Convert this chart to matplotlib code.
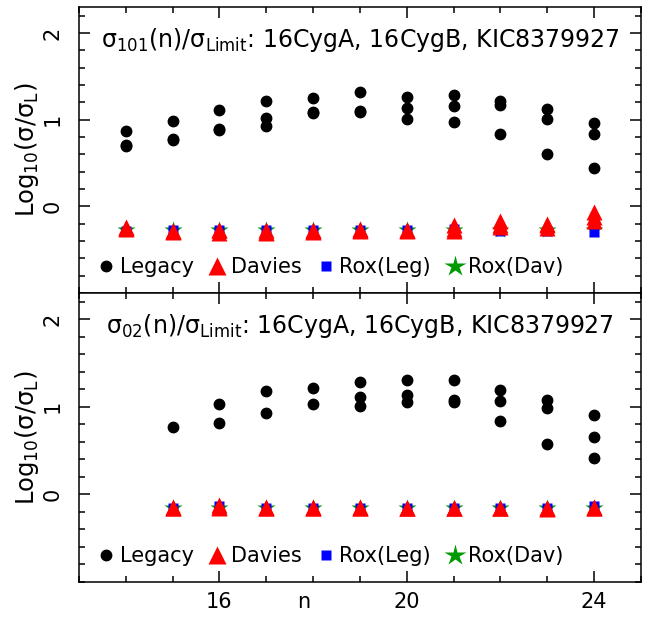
import numpy as np
import matplotlib
matplotlib.use('Agg')
import matplotlib.pyplot as plt
from matplotlib.ticker import MultipleLocator, FixedLocator

nan = np.nan

# l=1 (sigma_101), radial orders 14..24
n_101 = [14, 15, 16, 17, 18, 19, 20, 21, 22, 23, 24]
legacy_101_a = [0.87, 0.98, 1.11, 1.21, 1.25, 1.32, 1.26, 1.28, 1.22, 1.12, 0.96]
legacy_101_b = [0.70, 0.77, 0.88, 1.02, 1.08, 1.09, 1.14, 1.16, 1.17, 1.01, 0.83]
legacy_101_k = [0.71, 0.78, 0.89, 0.93, 1.09, 1.10, 1.01, 0.97, 0.83, 0.60, 0.44]
davies_101_a = [-0.24, -0.30, -0.31, -0.31, -0.28, -0.28, -0.27, -0.22, -0.17, -0.20, -0.07]
davies_101_b = [-0.25, -0.29, -0.27, -0.30, -0.30, -0.26, -0.28, -0.26, -0.21, -0.22, -0.12]
davies_101_k = [-0.26, -0.28, -0.27, -0.27, -0.27, -0.27, -0.27, -0.28, -0.24, -0.25, -0.17]
roxleg_101 = [-0.29, -0.27, -0.27, -0.27, -0.27, -0.27, -0.27, -0.26, -0.28, -0.28, -0.30]
roxdav_101 = [-0.27, -0.27, -0.27, -0.27, -0.27, -0.27, -0.27, -0.27, -0.27, -0.27, -0.27]

# l=0,2 (sigma_02), radial orders 15..24
n_02 = [15, 16, 17, 18, 19, 20, 21, 22, 23, 24]
legacy_02_a = [0.77, 1.03, 1.18, 1.22, 1.28, 1.31, 1.31, 1.19, 1.08, 0.91]
legacy_02_b = [nan, 0.81, 0.93, 1.03, 1.11, 1.13, 1.08, 1.07, 0.99, 0.66]
legacy_02_k = [nan, nan, nan, nan, 1.01, 1.05, 1.05, 0.84, 0.57, 0.42]
davies_02_a = [-0.14, -0.12, -0.15, -0.14, -0.14, -0.15, -0.16, -0.15, -0.17, -0.14]
davies_02_b = [-0.15, -0.14, -0.14, -0.15, -0.15, -0.15, -0.15, -0.15, -0.15, -0.15]
davies_02_k = [-0.15, -0.15, -0.15, -0.15, -0.15, -0.15, -0.15, -0.15, -0.16, -0.15]
roxleg_02 = [-0.15, -0.13, -0.15, -0.16, -0.16, -0.16, -0.15, -0.15, -0.16, -0.13]
roxdav_02 = [-0.15, -0.15, -0.15, -0.15, -0.15, -0.15, -0.15, -0.15, -0.16, -0.15]

titles = [r'$\sigma_{101}$(n)/$\sigma_{\rm Limit}$: 16CygA, 16CygB, KIC8379927',
          r'$\sigma_{02}$(n)/$\sigma_{\rm Limit}$: 16CygA, 16CygB, KIC8379927']

plt.rcParams['font.family'] = 'DejaVu Sans'
plt.rcParams['mathtext.fontset'] = 'dejavusans'
plt.rcParams['mathtext.default'] = 'regular'

fig = plt.figure(figsize=(6.6, 6.19), dpi=100)
ax1 = fig.add_axes([0.1197, 0.5267, 0.8515, 0.4620])
ax2 = fig.add_axes([0.1197, 0.0598, 0.8515, 0.4669])


def panel(ax, n, leg, dav, rox_l, rox_d, title, title_x):
    for vals in leg:
        ax.plot(n, vals, 'o', color='black', ms=7.5, ls='none')
    ax.plot(n, rox_d, '*', color='#009900', ms=13, ls='none', mec='none')
    ax.plot(n, rox_l, 's', color='#0000ff', ms=7, ls='none', mec='none')
    for vals in dav:
        ax.plot(n, vals, '^', color='#ff0000', ms=11, ls='none', mec='none')

    h_leg = ax.plot([], [], 'o', color='black', ms=7.5)[0]
    h_dav = ax.plot([], [], '^', color='#ff0000', ms=13, mec='none')[0]
    h_rl = ax.plot([], [], 's', color='#0000ff', ms=7, mec='none')[0]
    h_rd = ax.plot([], [], '*', color='#009900', ms=16, mec='none')[0]
    ax.legend([h_leg, h_dav, h_rl, h_rd], ['Legacy', 'Davies', 'Rox(Leg)', 'Rox(Dav)'],
              ncol=4, loc='center left', bbox_to_anchor=(0.035, 0.09),
              frameon=False, fontsize=15, handlelength=0.7, handletextpad=0.3,
              columnspacing=0.8, borderaxespad=0, borderpad=0)

    ax.text(title_x, 0.86, title, transform=ax.transAxes, fontsize=17, va='baseline')

    ax.set_xlim(13, 25)
    ax.set_ylim(-1, 2.3)
    ax.xaxis.set_major_locator(MultipleLocator(4))
    ax.xaxis.set_minor_locator(MultipleLocator(1))
    ax.yaxis.set_major_locator(FixedLocator([0, 1, 2]))
    ax.yaxis.set_minor_locator(MultipleLocator(0.2))
    ax.tick_params(which='both', direction='in', top=True, right=True, width=1.1)
    ax.tick_params(which='major', length=8)
    ax.tick_params(which='minor', length=4)
    ax.tick_params(axis='y', labelsize=15, labelrotation=90, pad=12)
    ax.tick_params(axis='x', labelsize=15, pad=7)
    for lab in ax.get_yticklabels():
        lab.set_va('center')
    for s in ax.spines.values():
        s.set_linewidth(1.1)
    ax.set_ylabel(r'Log$_{10}$($\sigma$/$\sigma_{L}$)', fontsize=17.5)
    ax.yaxis.set_label_coords(-0.068, 0.5)


panel(ax1, n_101, [legacy_101_a, legacy_101_b, legacy_101_k],
      [davies_101_a, davies_101_b, davies_101_k], roxleg_101, roxdav_101, titles[0], 0.04)
panel(ax2, n_02, [legacy_02_a, legacy_02_b, legacy_02_k],
      [davies_02_a, davies_02_b, davies_02_k], roxleg_02, roxdav_02, titles[1], 0.048)

ax1.tick_params(axis='x', labelbottom=False)
ax2.set_xlabel('n', fontsize=15)
ax2.xaxis.set_label_coords(0.4, -0.035)

fig.savefig('out.png', dpi=100)
